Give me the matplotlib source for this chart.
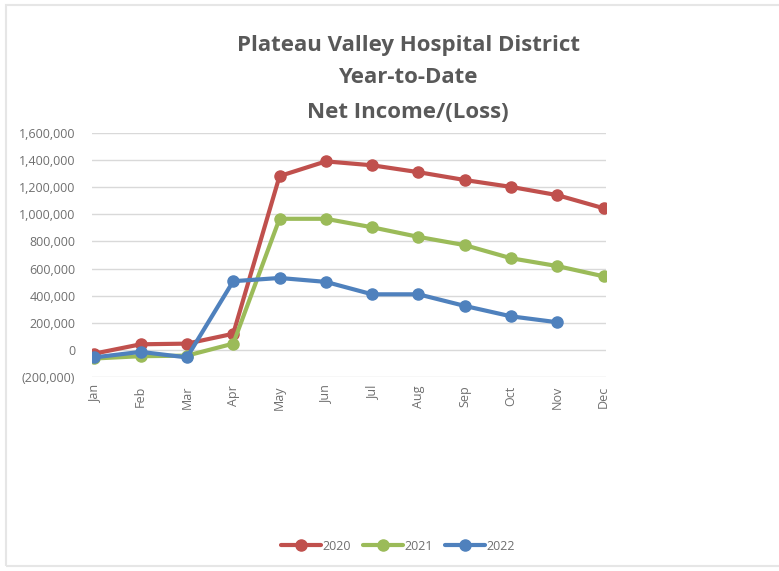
import matplotlib.pyplot as plt
from matplotlib.patches import Rectangle
from matplotlib.ticker import FuncFormatter

months = ['Jan', 'Feb', 'Mar', 'Apr', 'May', 'Jun', 'Jul', 'Aug', 'Sep', 'Oct', 'Nov', 'Dec']
ytd_2020 = [-30000, 39000, 44000, 117000, 1284000, 1393000, 1364000, 1313000, 1255000, 1204000, 1143000, 1046000]
ytd_2021 = [-66000, -49000, -45000, 44000, 968000, 968000, 905000, 834000, 773000, 676000, 618000, 542000]
ytd_2022 = [-58000, -17000, -58000, 506000, 530000, 501000, 409000, 409000, 323000, 246000, 202000]

plt.rcParams['font.family'] = ['Open Sans', 'DejaVu Sans']

fig = plt.figure(figsize=(7.79, 5.71), dpi=100)
fig.patches.append(Rectangle((6/779, 5/571), 1.0, 1 - 10/571, transform=fig.transFigure,
                             fill=False, edgecolor='#e6e6e6', linewidth=1.5))

ax = fig.add_axes([92/779, 1 - 377/571, (606 - 92)/779, (377 - 133)/571])

series = [(ytd_2020, '2020', '#C0504D'), (ytd_2021, '2021', '#9BBB59'), (ytd_2022, '2022', '#4F81BD')]
for vals, lab, col in series:
    ax.plot(months[:len(vals)], vals, color=col, lw=3, marker='o', ms=8,
            markeredgecolor=col, markerfacecolor=col, label=lab, solid_capstyle='round')

ax.set_ylim(-203000, 1603000)
ax.set_yticks(range(-200000, 1600001, 200000))
ax.set_xlim(-0.05, 11.05)


def fmt(v, pos):
    if v < 0:
        return '({:,.0f})'.format(-v)
    return '{:,.0f}'.format(v)


ax.yaxis.set_major_formatter(FuncFormatter(fmt))
ax.grid(axis='y', color='#d9d9d9', lw=1)
ax.set_axisbelow(True)
for s in ax.spines.values():
    s.set_visible(False)
ax.tick_params(axis='both', length=0, colors='#6f6f6f', labelsize=9)
ax.tick_params(axis='y', pad=12)
ax.tick_params(axis='x', pad=6)
plt.setp(ax.get_xticklabels(), rotation=90)

title_lines = ['Plateau Valley Hospital District', 'Year-to-Date', 'Net Income/(Loss)']
for txt, ypix in zip(title_lines, [45, 77, 113]):
    fig.text(408/779, 1 - ypix/571, txt, ha='center', va='center',
             fontsize=16, fontweight='bold', color='#595959')

fig.legend(loc='center', bbox_to_anchor=(398/779, 1 - 546/571), ncol=3, frameon=False,
           fontsize=9, labelcolor='#6f6f6f', handlelength=3.2, columnspacing=1.0, handletextpad=0.1)

fig.savefig('out.png', dpi=100, facecolor='white')
